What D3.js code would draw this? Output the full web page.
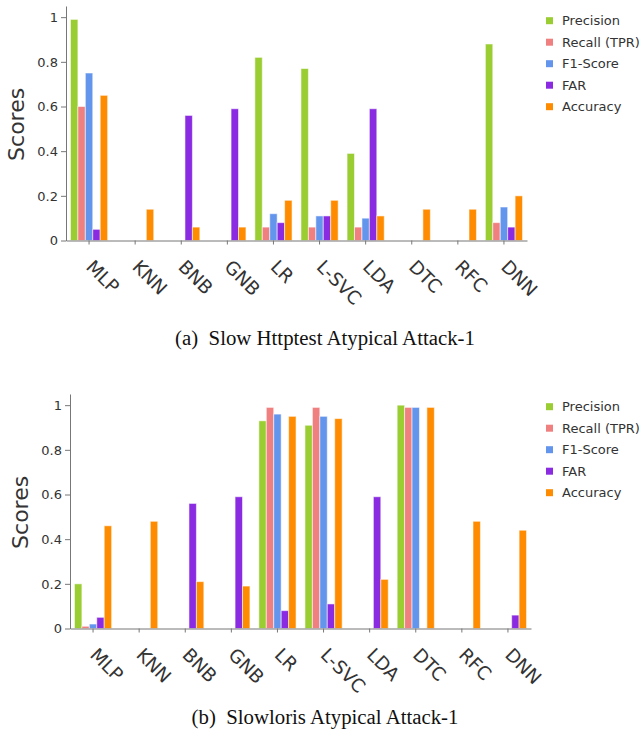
<!DOCTYPE html>
<html>
<head>
<meta charset="utf-8">
<script src="https://cdn.jsdelivr.net/npm/d3@7"></script>
<style>
  body { margin: 0; background: #fff; }
  svg { display: block; }
  .axis path, .axis line { stroke: #777; }
  .axis text { fill: #333; font-family: 'DejaVu Sans', Verdana, sans-serif; }
</style>
</head>
<body>
<div id="chart"></div>
<script>
'use strict';

var models = ['MLP', 'KNN', 'BNB', 'GNB', 'LR', 'L-SVC', 'LDA', 'DTC', 'RFC', 'DNN'];
var metrics = ['Precision', 'Recall (TPR)', 'F1-Score', 'FAR', 'Accuracy'];
var metricColors = ['#9acd32', '#f08080', '#6495ed', '#8a2be2', '#ff8c00'];
var yTicks = [0, 0.2, 0.4, 0.6, 0.8, 1];

// (a) Slow Httptest Atypical Attack-1, one array per metric, in model order
var httpPrecision = [0.99, 0, 0, 0, 0.82, 0.77, 0.39, 0, 0, 0.88];
var httpRecall    = [0.60, 0, 0, 0, 0.06, 0.06, 0.06, 0, 0, 0.08];
var httpF1        = [0.75, 0, 0, 0, 0.12, 0.11, 0.10, 0, 0, 0.15];
var httpFar       = [0.05, 0, 0.56, 0.59, 0.08, 0.11, 0.59, 0, 0, 0.06];
var httpAccuracy  = [0.65, 0.14, 0.06, 0.06, 0.18, 0.18, 0.11, 0.14, 0.14, 0.20];

// (b) Slowloris Atypical Attack-1
var lorisPrecision = [0.20, 0, 0, 0, 0.93, 0.91, 0, 1.00, 0, 0];
var lorisRecall    = [0.01, 0, 0, 0, 0.99, 0.99, 0, 0.99, 0, 0];
var lorisF1        = [0.02, 0, 0, 0, 0.96, 0.95, 0, 0.99, 0, 0];
var lorisFar       = [0.05, 0, 0.56, 0.59, 0.08, 0.11, 0.59, 0, 0, 0.06];
var lorisAccuracy  = [0.46, 0.48, 0.21, 0.19, 0.95, 0.94, 0.22, 0.99, 0.48, 0.44];

var width = 643,
    height = 737,
    svg = d3.select('#chart').append('svg').attr('width', width).attr('height', height);

function drawChart(top, left, series, legendTop, caption) {
    var x0 = 0, x1 = 461, y0 = 234.5, yTop = 0,
        g = svg.append('g').attr('transform', 'translate(' + left + ',' + top + ')');

    var x = d3.scaleBand().domain(models).range([x0, x1]).padding(0),
        xs = d3.scaleBand().domain(metrics).range([0, x.bandwidth()]).paddingInner(0).paddingOuter(0.6),
        y = d3.scaleLinear().domain([0, 1.05]).range([y0, yTop]),
        color = d3.scaleOrdinal().domain(metrics).range(metricColors);

    var rows = models.map(function (m, i) {
        return { model: m, values: metrics.map(function (k, j) { return { key: k, value: series[j][i] }; }) };
    });

    var groups = g.selectAll('.group').data(rows).enter().append('g')
        .attr('class', 'group')
        .attr('transform', function (d) { return 'translate(' + x(d.model) + ',0)'; });

    groups.selectAll('rect').data(function (d) {
        return d.values.filter(function (v) { return v.value > 0; });
    }).enter().append('rect')
        .attr('x', function (d) { return xs(d.key); })
        .attr('y', function (d) { return y(d.value); })
        .attr('width', xs.bandwidth())
        .attr('height', function (d) { return y0 - y(d.value); })
        .style('fill', function (d) { return color(d.key); })
        .style('stroke', '#fff')
        .style('stroke-opacity', 0.55)
        .style('stroke-width', 1);

    // axes
    var yAxis = g.append('g').attr('class', 'axis')
        .call(d3.axisLeft(y).tickValues(yTicks).tickSize(5).tickSizeOuter(0).tickFormat(function (d) { return d; }));
    yAxis.selectAll('text').style('font-size', '13px').attr('x', -8);

    var xAxis = g.append('g').attr('class', 'axis').attr('transform', 'translate(0,' + y0 + ')')
        .call(d3.axisBottom(x).tickSize(4).tickSizeOuter(0));
    xAxis.selectAll('text')
        .style('font-size', '18.5px')
        .style('text-anchor', 'start')
        .attr('y', 0).attr('dy', 0)
        .attr('transform', 'translate(-4,27.5) rotate(45)');

    g.append('text')
        .attr('transform', 'translate(' + (-42) + ',' + y(0.52) + ') rotate(-90)')
        .style('text-anchor', 'middle')
        .style('font-family', "'DejaVu Sans', Verdana, sans-serif")
        .style('font-size', '22px')
        .style('fill', '#333')
        .text('Scores');

    // legend
    var legend = svg.selectAll('.legend-' + top).data(metrics).enter().append('g')
        .attr('class', 'legend-' + top)
        .attr('transform', function (d, i) { return 'translate(546,' + (legendTop + i * 21.5) + ')'; });
    legend.append('rect').attr('x', 0).attr('y', -3.5).attr('width', 7).attr('height', 7)
        .style('fill', function (d) { return color(d); });
    legend.append('text').attr('x', 16).attr('dy', '0.35em')
        .style('font-family', "'DejaVu Sans', Verdana, sans-serif")
        .style('font-size', '13px')
        .style('fill', '#333')
        .text(function (d) { return d; });

    svg.append('text')
        .attr('x', 325).attr('y', top + caption.dy)
        .style('text-anchor', 'middle')
        .style('font-family', "'Liberation Serif', 'Times New Roman', serif")
        .style('font-size', '20.8px')
        .style('fill', '#111')
        .text(caption.text);
}

drawChart(6, 66, [httpPrecision, httpRecall, httpF1, httpFar, httpAccuracy], 20.7,
    { text: '(a)\u2002Slow Httptest Atypical Attack-1', dy: 339 });
drawChart(394, 70, [lorisPrecision, lorisRecall, lorisF1, lorisFar, lorisAccuracy], 406.7,
    { text: '(b)\u2002Slowloris Atypical Attack-1', dy: 330 });
</script>
</body>
</html>
